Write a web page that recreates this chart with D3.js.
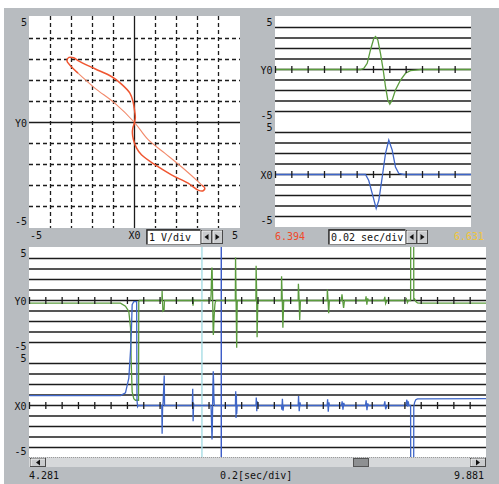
<!DOCTYPE html>
<html>
<head>
<meta charset="utf-8">
<script src="https://cdn.jsdelivr.net/npm/d3@7"></script>
<style>
  body { margin: 0; background: #fff; }
  svg { display: block; }
  text { font-family: "DejaVu Sans Mono", monospace; font-size: 10px; fill: #111; }
</style>
</head>
<body>
<svg id="scope" width="499" height="484"></svg>
<script>
// time ranges and scale settings
const fullRange = [4.281, 9.881];
const cursorT = [6.394, 6.631];
const timeDiv = 0.2, zoomDiv = 0.02, voltDiv = 1;
const gridVals = [-4, -3, -2, -1, 0, 1, 2, 3, 4];

// XY (lissajous) loop, X0 vs Y0 in volts
const xyThick = [[-2.69, 2.35], [-3.05, 2.7], [-3.22, 2.94], [-3.12, 3.1], [-2.9, 3.08], [-2.69, 2.95],
  [-1.89, 2.56], [-1.1, 2.19], [-0.62, 1.83], [-0.22, 1.4], [-0.07, 1.0], [0.01, 0.52], [0.04, 0.25],
  [0, 0], [-0.08, -0.27], [-0.1, -0.5], [-0.05, -0.82], [0.1, -1.22], [0.33, -1.54], [0.97, -2.01],
  [1.76, -2.49], [2.55, -2.89], [3.03, -3.22], [3.27, -3.25], [3.35, -3.12], [3.2, -2.98]];
const xyThin = [[3.2, -2.98], [3.11, -2.89], [2.4, -2.25], [1.44, -1.46], [0.65, -0.82], [0, 0],
  [-0.94, 0.92], [-1.89, 1.64], [-2.69, 2.35]];

// Y0 channel (green), [sec, volts]
const traceY0 = [[4.281, -0.25], [5.396, -0.25], [5.457, -0.55], [5.498, -1.05], [5.519, -2.6], [5.527, -5.8],
  [5.539, -8.7], [5.559, -9.35], [5.580, -9.5], [5.617, -9.5], [5.620, -0.1], [5.630, 0],
  [5.903, 0], [5.906, 0.9], [5.910, 0.1], [5.916, -1.0], [5.930, -0.9], [5.935, 0],
  [6.275, 0], [6.279, 0.3], [6.285, -0.5], [6.292, 0.1], [6.296, 0],
  [6.4981, 0], [6.5021, 0.11], [6.5063, 0.59], [6.5103, 1.86], [6.5144, 2.97], [6.5165, 3.14], [6.5193, 2.81],
  [6.5226, 1.52], [6.5259, -0.05], [6.5287, -1.64], [6.5315, -2.9], [6.5340, -3.29], [6.5369, -2.9],
  [6.5409, -1.95], [6.5471, -1.0], [6.5532, -0.36], [6.5593, -0.11], [6.5654, -0.05], [6.5720, 0],
  [6.803, 0], [6.806, 4.1], [6.812, 0.3], [6.820, -4.5], [6.826, -0.2], [6.829, 0],
  [7.055, 0], [7.058, 3.3], [7.064, 0.8], [7.070, -3.5], [7.078, -0.3], [7.081, 0],
  [7.367, 0], [7.370, 2.3], [7.378, 0.2], [7.386, -2.6], [7.395, -0.2], [7.398, 0],
  [7.573, 0], [7.576, 1.6], [7.584, 0.2], [7.592, -1.85], [7.600, -0.2], [7.603, 0],
  [7.928, 0], [7.931, 1.05], [7.939, 0.1], [7.947, -1.2], [7.955, -0.1], [7.958, 0],
  [8.103, 0], [8.110, 0.6], [8.120, -0.1], [8.130, -0.7], [8.141, 0],
  [8.398, 0], [8.405, 0.4], [8.415, -0.4], [8.425, 0.2], [8.435, 0],
  [8.625, 0], [8.635, 0.35], [8.645, -0.3], [8.662, 0],
  [8.889, 0], [8.900, 0.15], [8.912, -0.2], [8.925, 0],
  [8.951, 0], [8.953, 9.5], [8.988, 9.5], [8.990, 0.1], [9.000, 0.15], [9.015, -0.1], [9.035, -0.22],
  [9.055, -0.25], [9.881, -0.25]];

// X0 channel (blue), [sec, volts]
const traceX0 = [[4.281, 0.95], [5.396, 0.95], [5.457, 1.2], [5.498, 2.6], [5.519, 5.2], [5.531, 7.4],
  [5.539, 9.6], [5.559, 9.9], [5.594, 9.9], [5.598, 0.5], [5.606, -0.1], [5.613, 0],
  [5.902, 0], [5.906, -2.7], [5.912, -0.2], [5.918, 0.3], [5.932, 2.85], [5.936, 0],
  [6.276, 0], [6.281, 1.6], [6.286, -1.5], [6.292, 0.2], [6.295, 0],
  [6.5042, 0], [6.5082, -0.57], [6.5124, -1.8], [6.5173, -3.24], [6.5205, -2.46], [6.5247, -0.24],
  [6.5287, 2.0], [6.5327, 3.27], [6.5369, 2.32], [6.5409, 0.72], [6.5450, 0.1], [6.5511, 0],
  [6.804, 0], [6.808, 1.35], [6.812, -1.2], [6.816, 1.0], [6.820, -0.8], [6.826, 0],
  [7.056, 0], [7.060, 0.75], [7.066, -0.55], [7.072, 0.4], [7.080, 0],
  [7.368, 0], [7.373, -0.4], [7.380, 0.65], [7.388, -0.5], [7.396, 0],
  [7.573, 0], [7.578, 0.9], [7.586, -0.55], [7.596, 0.3], [7.602, 0],
  [7.928, 0], [7.934, 0.6], [7.942, -0.6], [7.950, 0.3], [7.957, 0],
  [8.104, 0], [8.112, 0.4], [8.122, -0.4], [8.132, 0.25], [8.141, 0],
  [8.398, 0], [8.406, 0.5], [8.416, -0.45], [8.426, 0.2], [8.435, 0],
  [8.625, 0], [8.635, 0.4], [8.645, -0.35], [8.662, 0],
  [8.893, 0], [8.905, 0.55], [8.915, -0.1], [8.922, 0.4], [8.930, 0],
  [8.951, 0], [8.953, -9.9], [8.988, -9.9], [8.990, -0.1], [9.000, 0.3], [9.015, 0.55], [9.035, 0.63],
  [9.881, 0.65]];

const svg = d3.select("#scope");
const green = "#5b9c3e", blue = "#3f66c8", ink = "#1c1c1c";

// gray window background
svg.append("rect").attr("x", 4).attr("y", 8).attr("width", 495).attr("height", 476).attr("fill", "#b8bcc0");

// ---------- XY plot ----------
const xyX = d3.scaleLinear().domain([-5, 5]).range([29.5, 239.5]);
const xyY = d3.scaleLinear().domain([-5, 5]).range([227.5, 17.5]);
svg.append("rect").attr("x", 29).attr("y", 16).attr("width", 211).attr("height", 212).attr("fill", "#fff");

const xyGrid = svg.append("g").attr("stroke", ink).attr("stroke-width", 1.3);
xyGrid.selectAll(".gv").data(gridVals).enter().append("line")
  .attr("x1", d => xyX(d)).attr("x2", d => xyX(d)).attr("y1", 16).attr("y2", 228)
  .attr("stroke-dasharray", d => d === 0 ? null : "4,3");
xyGrid.selectAll(".gh").data(gridVals).enter().append("line")
  .attr("y1", d => xyY(d)).attr("y2", d => xyY(d)).attr("x1", 29).attr("x2", 240)
  .attr("stroke-dasharray", d => d === 0 ? null : "4,3");

const xyLine = d3.line().x(d => xyX(d[0])).y(d => xyY(d[1])).curve(d3.curveCatmullRom.alpha(0.5));
svg.append("path").attr("d", xyLine(xyThin)).attr("fill", "none").attr("stroke", "#f2896a").attr("stroke-width", 1.1);
svg.append("path").attr("d", xyLine(xyThick)).attr("fill", "none").attr("stroke", "#ef5530").attr("stroke-width", 1.5);

svg.append("text").attr("x", 27).attr("y", xyY(5) + 8).attr("text-anchor", "end").text("5");
svg.append("text").attr("x", 27).attr("y", xyY(0) + 4).attr("text-anchor", "end").text("Y0");
svg.append("text").attr("x", 27).attr("y", xyY(-5) - 3).attr("text-anchor", "end").text("-5");
svg.append("text").attr("x", 30).attr("y", 239).text("-5");
svg.append("text").attr("x", xyX(0)).attr("y", 239).attr("text-anchor", "middle").text("X0");
svg.append("text").attr("x", 238).attr("y", 239).attr("text-anchor", "end").text("5");

// ---------- scope panels ----------
function scopePanel(id, left, right, top, domain, step, markers) {
  const x = d3.scaleLinear().domain(domain).range([left + 0.5, right + 0.5]);
  const halves = [
    { name: "Y0", data: traceY0, color: green, y: d3.scaleLinear().domain([-5, 5]).range([top + 105, top]) },
    { name: "X0", data: traceX0, color: blue, y: d3.scaleLinear().domain([-5, 5]).range([top + 210, top + 105]) }
  ];
  svg.append("rect").attr("x", left).attr("y", top - 1).attr("width", right - left).attr("height", 211).attr("fill", "#fff");
  svg.append("clipPath").attr("id", id).append("rect")
    .attr("x", left).attr("y", top - 1).attr("width", right - left).attr("height", 211);

  const ticks = d3.range(domain[0], domain[1] - step / 2, step);
  halves.forEach(h => {
    svg.append("g").selectAll("line").data(gridVals).enter().append("line")
      .attr("x1", left).attr("x2", right).attr("y1", d => h.y(d)).attr("y2", d => h.y(d))
      .attr("stroke", ink).attr("stroke-width", 1.3);
  });
  // cursors (only on overview)
  markers.forEach(m => {
    svg.append("line").attr("x1", x(m.t)).attr("x2", x(m.t)).attr("y1", top - 1).attr("y2", top + 210)
      .attr("stroke", m.color).attr("stroke-width", 1.4);
  });
  halves.forEach(h => {
    const line = d3.line().x(d => x(d[0])).y(d => h.y(d[1]));
    svg.append("path").attr("clip-path", `url(#${id})`).attr("d", line(h.data))
      .attr("fill", "none").attr("stroke", h.color).attr("stroke-width", 1.3);
    svg.append("g").selectAll("line").data(ticks).enter().append("line")
      .attr("x1", d => x(d)).attr("x2", d => x(d)).attr("y1", h.y(0) - 3.5).attr("y2", h.y(0) + 3.5)
      .attr("stroke", ink).attr("stroke-width", 1.3);
    svg.append("text").attr("x", left - 2.5).attr("y", h.y(5) + 8.5).attr("text-anchor", "end").text("5");
    svg.append("text").attr("x", left - 2.5).attr("y", h.y(0) + 4).attr("text-anchor", "end").text(h.name);
    svg.append("text").attr("x", left - 2.5).attr("y", h.y(-5) - 3.5).attr("text-anchor", "end").text("-5");
  });
}

scopePanel("clipZoom", 275, 471, 17, [cursorT[0], cursorT[0] + 12 * zoomDiv], zoomDiv, []);
scopePanel("clipFull", 29, 486, 248, fullRange, timeDiv,
  [{ t: cursorT[0], color: "#a8dde5" }, { t: cursorT[1], color: "#3a5ac6" }]);

// ---------- widgets ----------
function textBox(x, y, w, h, label) {
  svg.append("rect").attr("x", x + 0.5).attr("y", y + 0.5).attr("width", w).attr("height", h)
    .attr("fill", "#fff").attr("stroke", "#8a8a8a");
  svg.append("path").attr("d", `M${x + 1},${y + h}V${y + 1}H${x + w}`)
    .attr("fill", "none").attr("stroke", "#222").attr("stroke-width", 1.3);
  svg.append("text").attr("x", x + 3).attr("y", y + h - 3.5).text(label);
}
function arrowBtn(x, y, w, h, dir) {
  svg.append("rect").attr("x", x + 0.5).attr("y", y + 0.5).attr("width", w).attr("height", h)
    .attr("fill", "#c9cbcd").attr("stroke", "#4a4a4a");
  svg.append("path").attr("d", `M${x + 1},${y + h}V${y + 1}H${x + w}`)
    .attr("fill", "none").attr("stroke", "#f2f2f2").attr("stroke-width", 1);
  const cx = x + w / 2 + 0.5, cy = y + h / 2 + 0.5;
  svg.append("path").attr("d", `M${cx - 2 * dir},${cy - 3}L${cx + 2 * dir},${cy}L${cx - 2 * dir},${cy + 3}Z`)
    .attr("fill", "#111");
}

textBox(146, 229, 54, 15, `${voltDiv} V/div`);
arrowBtn(201, 230, 10, 13, -1);
arrowBtn(212, 230, 10, 13, 1);

svg.append("text").attr("x", 275).attr("y", 239.5).style("fill", "#f04a2a").text(cursorT[0].toFixed(3));
svg.append("text").attr("x", 484).attr("y", 239.5).attr("text-anchor", "end").style("fill", "#f0c63c").text(cursorT[1].toFixed(3));
textBox(328, 229, 77, 15, `${zoomDiv} sec/div`);
arrowBtn(406, 230, 10, 13, -1);
arrowBtn(417, 230, 10, 13, 1);

// scrollbar under overview
svg.append("rect").attr("x", 29).attr("y", 457).attr("width", 457).attr("height", 10).attr("fill", "#d6d8da");
svg.append("line").attr("x1", 29).attr("x2", 486).attr("y1", 457.5).attr("y2", 457.5)
  .attr("stroke", "#9a9a9a").attr("stroke-dasharray", "1,1");
arrowBtn(30, 458, 15, 8, -1);
arrowBtn(470, 458, 15, 8, 1);
svg.append("rect").attr("x", 353.5).attr("y", 458.5).attr("width", 15).attr("height", 8)
  .attr("fill", "#8e9092").attr("stroke", "#555");

svg.append("text").attr("x", 29).attr("y", 479).text(fullRange[0].toFixed(3));
svg.append("text").attr("x", 220).attr("y", 479).text(`${timeDiv}[sec/div]`);
svg.append("text").attr("x", 484).attr("y", 479).attr("text-anchor", "end").text(fullRange[1].toFixed(3));
</script>
</body>
</html>
